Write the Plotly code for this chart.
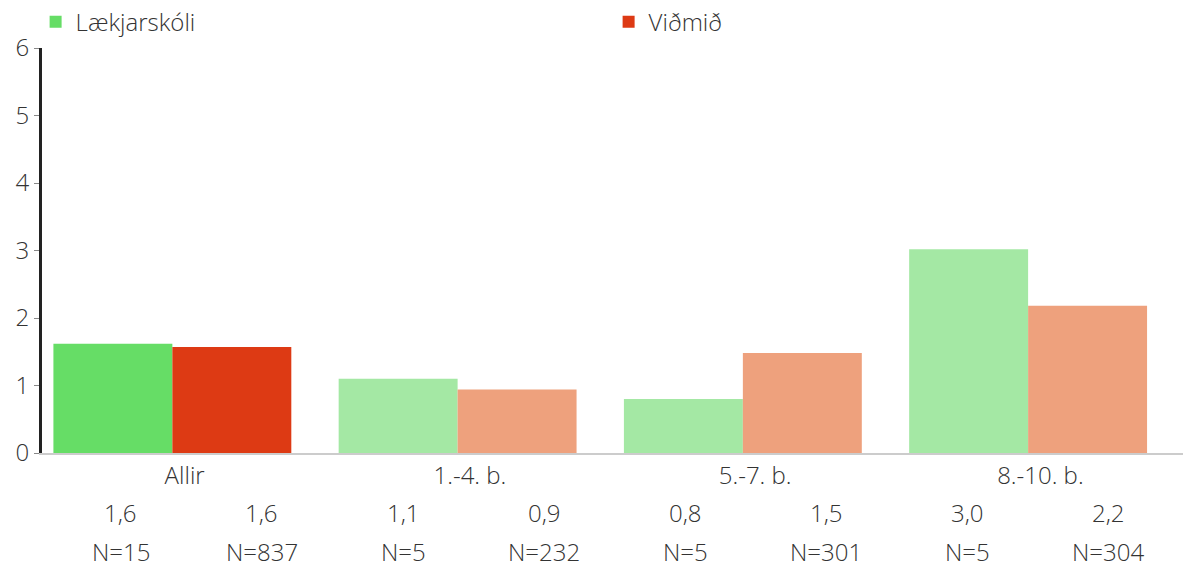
import plotly.graph_objects as go

# data
categories = ["Allir", "1.-4. b.", "5.-7. b.", "8.-10. b."]
school_name = "Lækjarskóli"
ref_name = "Viðmið"
school_vals = [1.62, 1.10, 0.80, 3.02]
ref_vals = [1.57, 0.94, 1.48, 2.18]
school_n = [15, 5, 5, 5]
ref_n = [837, 232, 301, 304]

# first group saturated, the rest lighter
school_colors = ["#66dd66", "#a4e8a4", "#a4e8a4", "#a4e8a4"]
ref_colors = ["#dd3a14", "#eea17d", "#eea17d", "#eea17d"]

font_family = "'Open Sans', 'Noto Sans', sans-serif"
text_color = "#333333"
fsize = 24
xs = list(range(len(categories)))

fig = go.Figure()

fig.add_trace(
    go.Bar(
        x=xs,
        y=school_vals,
        name=school_name,
        marker=dict(color=school_colors, line_width=0),
        offset=-0.46,
        width=0.417,
        hoverinfo="y",
    )
)
fig.add_trace(
    go.Bar(
        x=xs,
        y=ref_vals,
        name=ref_name,
        marker=dict(color=ref_colors, line_width=0),
        offset=-0.043,
        width=0.417,
        hoverinfo="y",
    )
)

# value and N rows under the axis, laid out as 8 equal columns
def fmt(v):
    return f"{v:.1f}".replace(".", ",")

label_font = dict(size=fsize, color=text_color, family=font_family, weight=300)

col_start = 0.0074
col_step = 0.1236
annotations = []
for i in range(len(categories)):
    for j, (vals, ns) in enumerate([(school_vals, school_n), (ref_vals, ref_n)]):
        k = 2 * i + j
        xp = col_start + col_step * (k + 0.5)
        annotations.append(
            dict(x=xp, y=-0.148, xref="paper", yref="paper", text=fmt(vals[i]),
                 showarrow=False, xanchor="center", yanchor="middle",
                 font=label_font)
        )
        annotations.append(
            dict(x=xp, y=-0.242, xref="paper", yref="paper", text=f"N={ns[i]}",
                 showarrow=False, xanchor="center", yanchor="middle",
                 font=label_font)
        )

fig.update_layout(
    width=1183,
    height=567,
    margin=dict(l=42, r=0, t=48, b=114, autoexpand=False),
    paper_bgcolor="white",
    plot_bgcolor="white",
    font=label_font,
    barmode="group",
    showlegend=True,
    legend=dict(
        orientation="h",
        x=-0.0056,
        xanchor="left",
        y=1.064,
        yanchor="middle",
        entrywidth=528,
        entrywidthmode="pixels",
        font=label_font,
        bgcolor="rgba(0,0,0,0)",
    ),
    annotations=annotations,
)

fig.update_xaxes(
    range=[-0.5, 3.5],
    tickvals=xs,
    ticktext=categories,
    showgrid=False,
    zeroline=False,
    showline=True,
    linecolor="#cccccc",
    linewidth=2,
    ticks="",
    automargin=False,
    tickfont=label_font,
)
fig.update_yaxes(
    range=[0, 6],
    dtick=1,
    showgrid=False,
    zeroline=False,
    showline=True,
    linecolor="#222222",
    linewidth=3,
    ticks="outside",
    ticklen=5,
    tickcolor="#888888",
    tickwidth=1,
    automargin=False,
    tickfont=label_font,
)

# drop the default body margin so the figure sits at the page corner
fig.write_html(
    "out.html",
    config={"displayModeBar": False},
    post_script="document.body.style.margin='0';",
)
